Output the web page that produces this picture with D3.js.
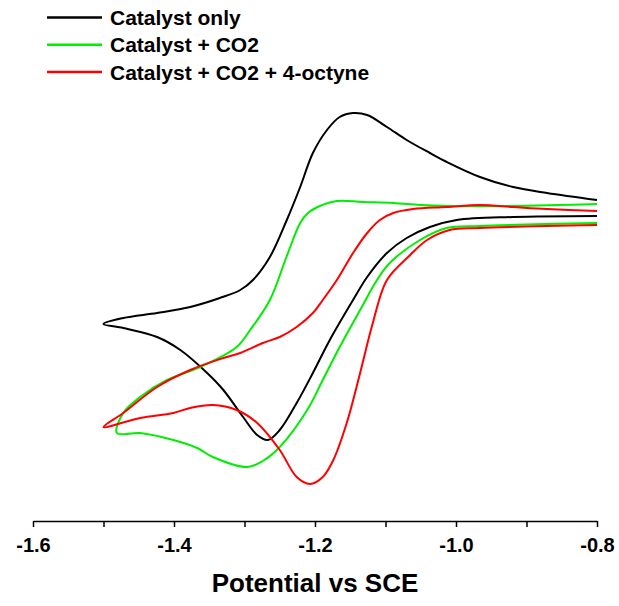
<!DOCTYPE html>
<html>
<head>
<meta charset="utf-8">
<script src="https://cdn.jsdelivr.net/npm/d3@7"></script>
<style>
  body { margin: 0; background: #fff; }
  text { font-family: "Liberation Sans", Arial, sans-serif; font-weight: bold; }
</style>
</head>
<body>
<div id="chart"></div>
<script>
// series names + colours
var seriesNames = ['Catalyst only', 'Catalyst + CO2', 'Catalyst + CO2 + 4-octyne'];
var seriesColors = ['#000000', '#00ee00', '#ff0000'];

// x ticks (V vs SCE)
var majorTicks = [-1.6, -1.4, -1.2, -1.0, -0.8];
var minorTicks = [-1.5, -1.3, -1.1, -0.9];

// catalyst only: potential (V) and current (arb. units), cathodic sweep then return
var blackE = [-0.800, -0.919, -0.999, -1.037, -1.070, -1.098, -1.126, -1.146, -1.179, -1.203,
  -1.226, -1.250, -1.267, -1.282, -1.302, -1.330, -1.353, -1.391, -1.424, -1.472, -1.500,
  -1.472, -1.424, -1.377, -1.335, -1.306, -1.288, -1.264, -1.240, -1.221, -1.203,
  -1.183, -1.165, -1.146, -1.126, -1.098, -1.070, -1.037, -1.013, -0.966, -0.919, -0.871, -0.800];
var blackI = [9.4, 9.3, 9.0, 8.3, 7.2, 5.7, 3.3, 1.0, -3.0, -6.3,
  -9.3, -12.0, -13.0, -12.5, -10.7, -8.0, -6.3, -4.0, -2.7, -1.8, -1.4,
  -0.8, -0.3, 0.3, 1.2, 2.0, 3.0, 5.3, 9.0, 12.3, 15.7,
  18.0, 19.3, 19.7, 19.5, 18.3, 17.0, 15.7, 14.8, 13.3, 12.3, 11.7, 11.0];

// catalyst + CO2
var greenE = [-0.800, -0.966, -1.013, -1.051, -1.094, -1.112, -1.136, -1.165, -1.189, -1.211, -1.250,
  -1.274, -1.296, -1.345, -1.367, -1.401, -1.448, -1.481,
  -1.472, -1.448, -1.410, -1.363, -1.311, -1.292, -1.264, -1.240, -1.221, -1.210, -1.193,
  -1.169, -1.132, -1.089, -1.051, -1.013, -0.919, -0.800];
var greenI = [8.7, 8.4, 8.2, 7.0, 4.7, 3.0, 0.0, -3.7, -7.0, -10.0, -13.7,
  -15.1, -15.7, -14.7, -13.8, -13.0, -12.3, -12.3,
  -10.3, -8.7, -7.0, -5.7, -3.7, -2.0, 1.0, 5.4, 8.7, 9.7, 10.4,
  10.9, 10.8, 10.7, 10.5, 10.4, 10.4, 10.6];

// catalyst + CO2 + 4-octyne
var redE = [-0.800, -0.966, -1.009, -1.041, -1.065, -1.098, -1.118, -1.136, -1.155, -1.174,
  -1.189, -1.207, -1.226, -1.250, -1.282, -1.311, -1.345, -1.377, -1.401, -1.448, -1.500,
  -1.472, -1.424, -1.377, -1.330, -1.306, -1.274, -1.250, -1.226, -1.203, -1.189, -1.169,
  -1.146, -1.126, -1.108, -1.089, -1.061, -1.013, -0.966, -0.919, -0.871, -0.800];
var redI = [8.5, 8.2, 8.0, 7.0, 5.5, 3.0, -1.3, -6.3, -11.3, -15.0,
  -16.7, -17.4, -16.7, -14.0, -11.3, -10.0, -9.5, -9.8, -10.3, -10.8, -11.7,
  -10.3, -7.7, -6.0, -4.8, -4.3, -3.3, -2.7, -1.7, -0.3, 1.0, 3.0,
  5.7, 7.7, 9.0, 9.7, 10.1, 10.3, 10.5, 10.3, 10.1, 9.9];

document.addEventListener("DOMContentLoaded", function() {
  var width = 619,
      height = 606;

  var svg = d3.select('#chart').append('svg')
    .attr('width', width)
    .attr('height', height);

  var x = d3.scaleLinear()
    .domain([-1.6, -0.8])
    .range([33, 597]);

  var y = d3.scaleLinear()
    .domain([-21.1, 22])
    .range([521, 90]);

  var series = [
    { name: seriesNames[0], color: seriesColors[0], E: blackE, I: blackI },
    { name: seriesNames[1], color: seriesColors[1], E: greenE, I: greenI },
    { name: seriesNames[2], color: seriesColors[2], E: redE, I: redI }
  ];

  var line = d3.line()
    .x(function(d) { return x(d[0]); })
    .y(function(d) { return y(d[1]); })
    .curve(d3.curveCatmullRom.alpha(0.5));

  svg.selectAll('path.cv')
    .data(series)
    .enter().append('path')
    .attr('class', 'cv')
    .attr('d', function(s) { return line(s.E.map(function(e, i) { return [e, s.I[i]]; })); })
    .attr('fill', 'none')
    .attr('stroke', function(s) { return s.color; })
    .attr('stroke-width', 2)
    .attr('stroke-linejoin', 'round');

  // x axis, major and minor ticks
  var axisG = svg.append('g').attr('transform', 'translate(0,521)');
  axisG.call(d3.axisBottom(x)
      .tickValues(majorTicks)
      .tickSize(6)
      .tickSizeOuter(0)
      .tickPadding(11)
      .tickFormat(function(d) { return d.toFixed(1); }));
  axisG.append('g').call(d3.axisBottom(x)
      .tickValues(minorTicks)
      .tickSize(6)
      .tickSizeOuter(0)
      .tickFormat(''))
    .select('.domain').remove();
  axisG.selectAll('path, line').attr('stroke', '#000').attr('stroke-width', 1.5);
  axisG.selectAll('text')
    .attr('fill', '#000')
    .style('font-size', '20px')
    .style('font-family', '"Liberation Sans", Arial, sans-serif')
    .style('font-weight', 'bold');

  svg.append('text')
    .attr('x', x(-1.2))
    .attr('y', 592)
    .attr('text-anchor', 'middle')
    .style('font-size', '26px')
    .text('Potential vs SCE');

  // legend
  var legend = svg.selectAll('g.legend')
    .data(series)
    .enter().append('g')
    .attr('class', 'legend')
    .attr('transform', function(d, i) { return 'translate(47,' + (17.5 + i * 27.3) + ')'; });
  legend.append('line')
    .attr('x1', 0).attr('x2', 55)
    .attr('stroke', function(d) { return d.color; })
    .attr('stroke-width', 2.5);
  legend.append('text')
    .attr('x', 63)
    .attr('y', 7.5)
    .style('font-size', '21px')
    .text(function(d) { return d.name; });
});
</script>
</body>
</html>
